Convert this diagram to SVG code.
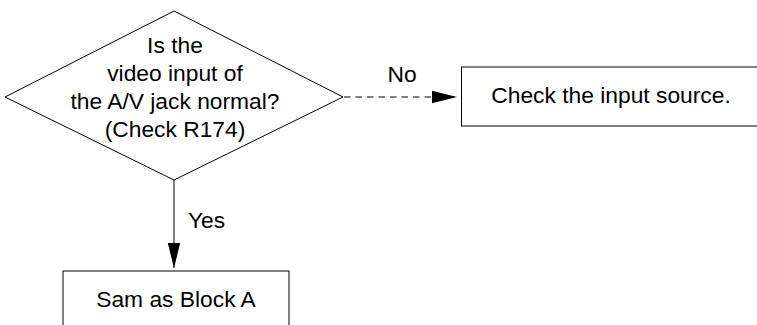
<svg xmlns="http://www.w3.org/2000/svg" width="757" height="325" viewBox="0 0 757 325">
<defs>
<marker id="arrow" markerUnits="userSpaceOnUse" markerWidth="26" markerHeight="14" refX="25" refY="7" orient="auto">
<path d="M0,0.8 L25,7 L0,13.2 Z" fill="#000"/>
</marker>
<style>
.shape{fill:#fff;stroke:#000;stroke-width:1}
.t{font-family:"Liberation Sans",Arial,Helvetica,sans-serif;font-size:22.8px;fill:#000}
.c{text-anchor:middle}
.edge{fill:none;stroke:#000;stroke-width:1}
.dash{stroke-dasharray:6.5 5}
</style>
</defs>
<rect width="757" height="325" fill="#fff"/>
<g id="decision">
<polygon class="shape" points="174,11 343,97 174,180 5,97"/>
<text class="t c" x="175" y="53">Is the</text>
<text class="t c" x="175" y="81">video input of</text>
<text class="t c" x="175" y="109">the A/V jack normal?</text>
<text class="t c" x="175" y="137">(Check R174)</text>
</g>
<g id="check-source">
<rect class="shape" x="461.5" y="67" width="300" height="59"/>
<text class="t c" x="611" y="103">Check the input source.</text>
</g>
<g id="block-a">
<rect class="shape" x="63" y="271" width="226" height="70"/>
<text class="t c" x="176" y="307">Sam as Block A</text>
</g>
<g id="connectors">
<line class="edge dash" x1="344" y1="97" x2="457" y2="97" marker-end="url(#arrow)"/>
<text class="t c" x="402" y="82">No</text>
<line class="edge" x1="174" y1="180" x2="174" y2="268" marker-end="url(#arrow)"/>
<text class="t" x="188" y="228">Yes</text>
</g>
</svg>
